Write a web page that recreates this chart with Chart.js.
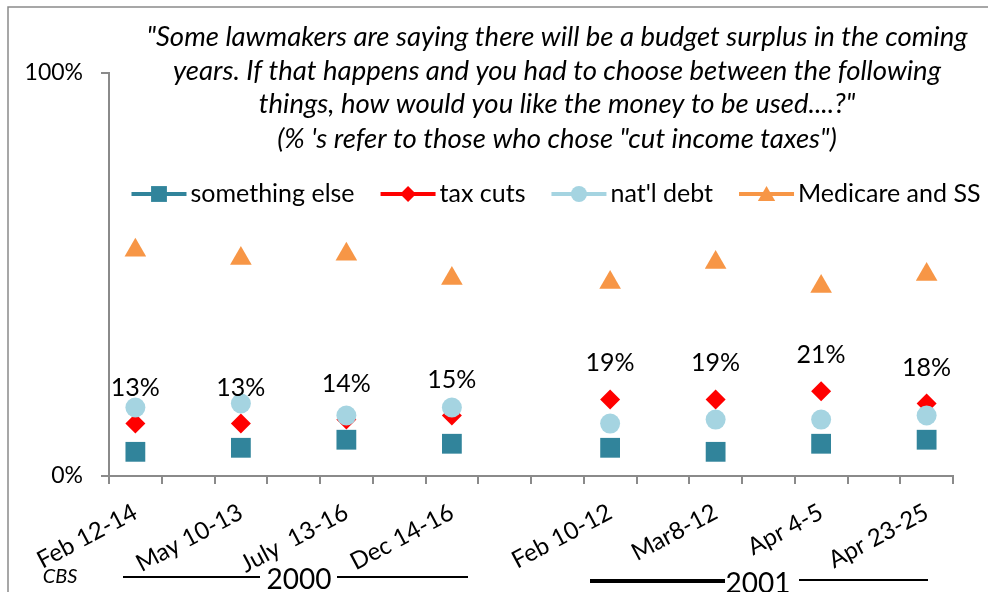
<!DOCTYPE html>
<html>
<head>
<meta charset="utf-8">
<title>Budget surplus: how to use the money</title>
<script src="https://cdn.jsdelivr.net/npm/chart.js@4.4.0/dist/chart.umd.min.js"></script>
<style>
    html, body { margin: 0; padding: 0; background: #fff; }
    #wrap { width: 988px; height: 592px; position: relative; }
</style>
</head>
<body>
<div id="wrap"><canvas id="surplusChart"></canvas></div>
<script>
// Poll dates; the blank slots keep the spacing between polls and the gap between years
const pollDates = ['Feb 12-14', '', 'May 10-13', '', 'July  13-16', '', 'Dec 14-16', '', '',
    'Feb 10-12', '', 'Mar8-12', '', 'Apr 4-5', '', 'Apr 23-25'];

const somethingElse = [6, null, 7, null, 9, null, 8, null, null, 7, null, 6, null, 8, null, 9];
const taxCuts       = [13, null, 13, null, 14, null, 15, null, null, 19, null, 19, null, 21, null, 18];
const natlDebt      = [17, null, 18, null, 15, null, 17, null, null, 13, null, 14, null, 14, null, 15];
const medicareSS    = [56, null, 54, null, 55, null, 49, null, null, 48, null, 53, null, 47, null, 50];

const yTickValues = [0, 100];

const questionLines = [
    '"Some lawmakers are saying there will be a budget surplus in the coming',
    'years. If that happens and you had to choose between the following',
    'things, how would you like the money to be used....?"',
    '(% \'s refer to those who chose "cut income taxes")'
];

const FONT = 'Lato, "Open Sans", sans-serif';
const AXIS_GREY = '#8a8a8a';

const seriesStyles = [
    { label: 'something else', data: somethingElse, color: '#31849B', pointStyle: 'rect', radius: 14, order: 4 },
    { label: 'tax cuts', data: taxCuts, color: '#FF0000', pointStyle: 'rectRot', radius: 10, order: 3 },
    { label: "nat'l debt", data: natlDebt, color: '#A5D4E1', pointStyle: 'circle', radius: 10, order: 2 },
    { label: 'Medicare and SS', data: medicareSS, color: '#F79646', pointStyle: 'triangle', radius: 12.5, order: 1 }
];

const datasets = seriesStyles.map(s => ({
    label: s.label,
    data: s.data,
    showLine: false,
    spanGaps: false,
    order: s.order,
    pointStyle: s.pointStyle,
    pointRadius: s.radius,
    pointHoverRadius: s.radius,
    pointBackgroundColor: s.color,
    pointBorderColor: s.color,
    pointBorderWidth: 0,
    borderColor: s.color,
    backgroundColor: s.color
}));

// Outer frame, question text, legend, value labels and year brackets
const decorations = {
    id: 'decorations',
    beforeDraw(chart) {
        const ctx = chart.ctx;
        ctx.save();
        ctx.fillStyle = '#fff';
        ctx.fillRect(0, 0, chart.width, chart.height);
        ctx.strokeStyle = AXIS_GREY;
        ctx.lineWidth = 1.5;
        ctx.beginPath();
        ctx.moveTo(8, chart.height);
        ctx.lineTo(8, 7);
        ctx.lineTo(chart.width, 7);
        ctx.stroke();
        ctx.restore();
    },
    afterDatasetsDraw(chart) {
        const ctx = chart.ctx;
        ctx.save();

        // question text
        ctx.fillStyle = '#000';
        ctx.textAlign = 'center';
        ctx.textBaseline = 'middle';
        ctx.font = 'italic 27.5px ' + FONT;
        const lineY = [37, 71, 104, 139];
        questionLines.forEach((line, i) => ctx.fillText(line, 557, lineY[i]));

        // legend: short line with the marker in the middle
        ctx.font = '25px ' + FONT;
        ctx.textAlign = 'left';
        const lineLen = 55, gapText = 4, gapItem = 26;
        const widths = seriesStyles.map(s => lineLen + gapText + ctx.measureText(s.label).width);
        const total = widths.reduce((a, b) => a + b, 0) + gapItem * (widths.length - 1);
        let lx = 556 - total / 2;
        const ly = 194;
        seriesStyles.forEach((s, i) => {
            ctx.strokeStyle = s.color;
            ctx.fillStyle = s.color;
            ctx.lineWidth = 4;
            ctx.beginPath();
            ctx.moveTo(lx, ly);
            ctx.lineTo(lx + lineLen, ly);
            ctx.stroke();
            ctx.lineWidth = 0;
            Chart.helpers.drawPoint(ctx, { pointStyle: s.pointStyle, radius: s.radius * 0.8, rotation: 0, borderWidth: 0 },
                lx + lineLen / 2, ly + (s.pointStyle === 'triangle' ? 2 : 0));
            ctx.fillStyle = '#000';
            ctx.fillText(s.label, lx + lineLen + gapText, ly);
            lx += widths[i] + gapItem;
        });

        // value labels above the tax cut markers
        const taxMeta = chart.getDatasetMeta(1);
        ctx.font = '25px ' + FONT;
        ctx.textAlign = 'center';
        ctx.fillStyle = '#000';
        taxMeta.data.forEach((pt, i) => {
            const v = taxCuts[i];
            if (v === null) return;
            ctx.fillText(v + '%', pt.x, pt.y - 36);
        });

        // source and year brackets under the axis
        ctx.font = 'italic 20px ' + FONT;
        ctx.fillText('CBS', 60, 577);
        ctx.font = '28px ' + FONT;
        ctx.fillText('2000', 299, 580);
        ctx.fillText('2001', 758, 584);
        ctx.strokeStyle = '#000';
        ctx.lineWidth = 2;
        ctx.beginPath();
        ctx.moveTo(123, 577); ctx.lineTo(260, 577);
        ctx.moveTo(337, 577); ctx.lineTo(468, 577);
        ctx.moveTo(799, 580); ctx.lineTo(928, 580);
        ctx.stroke();
        ctx.lineWidth = 4;
        ctx.beginPath();
        ctx.moveTo(590, 581); ctx.lineTo(725, 581);
        ctx.stroke();

        ctx.restore();
    }
};

const ctx = document.getElementById('surplusChart').getContext('2d');
const surplusChart = new Chart(ctx, {
    type: 'line',
    data: { labels: pollDates, datasets: datasets },
    plugins: [decorations],
    options: {
        responsive: true,
        maintainAspectRatio: false,
        animation: false,
        layout: { padding: { top: 73, right: 35, left: 0, bottom: 0 } },
        plugins: {
            legend: { display: false },
            tooltip: { enabled: false }
        },
        scales: {
            x: {
                type: 'category',
                offset: true,
                afterFit: scale => { scale.height = 116; },
                border: { color: AXIS_GREY, width: 2 },
                grid: { offset: true, drawOnChartArea: false, drawTicks: true, tickLength: 8, color: AXIS_GREY, lineWidth: 2 },
                ticks: {
                    autoSkip: false,
                    minRotation: 28,
                    maxRotation: 28,
                    padding: 14,
                    color: '#000',
                    font: { family: FONT, size: 24 }
                }
            },
            y: {
                min: 0,
                max: 100,
                afterFit: scale => { scale.width = 109; },
                afterBuildTicks: scale => { scale.ticks = yTickValues.map(v => ({ value: v })); },
                border: { color: AXIS_GREY, width: 2 },
                grid: { drawOnChartArea: false, drawTicks: true, tickLength: 8, color: AXIS_GREY, lineWidth: 2 },
                ticks: {
                    padding: 18,
                    color: '#000',
                    font: { family: FONT, size: 23 },
                    callback: v => v + '%'
                }
            }
        }
    }
});
</script>
</body>
</html>
